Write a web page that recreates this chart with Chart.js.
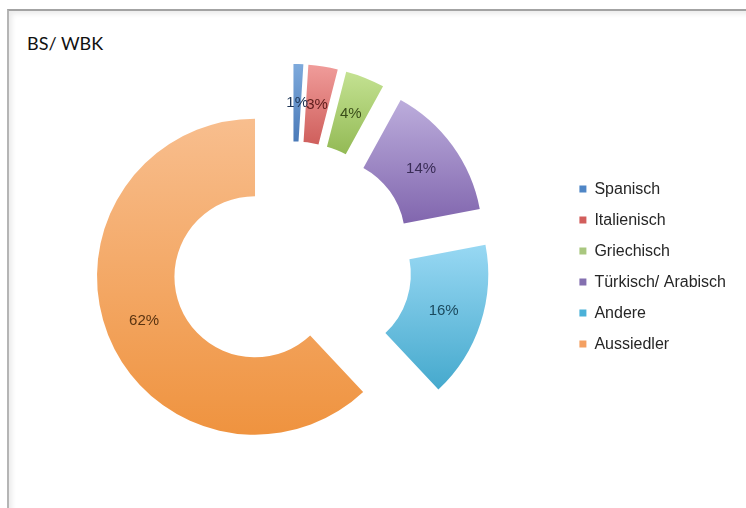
<!DOCTYPE html>
<html>
<head>
<meta charset="utf-8">
<script src="https://cdn.jsdelivr.net/npm/chart.js@4"></script>
<style>
    html, body { margin: 0; padding: 0; background: #fff; }
    body { width: 746px; height: 508px; position: relative; overflow: hidden; }
    #frame {
        position: absolute; left: 7px; top: 9px; width: 760px; height: 520px;
        border-top: 2px solid #a3a3a3; border-left: 2px solid #b5b5b5;
        box-shadow: inset 3px 3px 5px rgba(0, 0, 0, 0.08);
    }
    #title {
        position: absolute; left: 27px; top: 32px;
        font: 18px Lato, "Liberation Sans", sans-serif; color: #111;
    }
    #wrap { position: absolute; left: 0; top: 0; width: 746px; height: 508px; }
</style>
</head>
<body>
<div id="frame"></div>
<div id="title">BS/ WBK</div>
<div id="wrap"><canvas id="pie"></canvas></div>
<script>
// data
const labels = ["Spanisch", "Italienisch", "Griechisch", "Türkisch/ Arabisch", "Andere", "Aussiedler"];
const shares = [1, 3, 4, 14, 16, 62];

// colours
const lightColors = ["#7eaadc", "#f09c9a", "#c4e292", "#bcaddc", "#98d8f3", "#f8be8e"];
const darkColors = ["#4a7ab8", "#cf5f5c", "#93ba55", "#8166ae", "#45a9cd", "#ef933f"];
const legendColors = ["#4f86c6", "#d25e5c", "#a9c77f", "#8470b0", "#4bb1d8", "#f4a062"];
const labelColors = ["#1d3556", "#5e1d1b", "#3a4d1a", "#3a2d57", "#1b4a5e", "#5a3411"];

const EXPLODE = 40;
const CUTOUT = 0.51;

// vertical gradient fitted to the bounds of one (exploded) slice
function sliceGradient(context) {
    const chart = context.chart;
    const area = chart.chartArea;
    const i = context.dataIndex;
    if (!area) return darkColors[i];
    const total = shares.reduce((a, b) => a + b, 0);
    const before = shares.slice(0, i).reduce((a, b) => a + b, 0);
    const a0 = -Math.PI / 2 + 2 * Math.PI * before / total;
    const a1 = a0 + 2 * Math.PI * shares[i] / total;
    const mid = (a0 + a1) / 2;
    const R = Math.min(area.width, area.height) / 2;
    const cy = (area.top + area.bottom) / 2 + Math.sin(mid) * EXPLODE;
    let minY = Infinity, maxY = -Infinity;
    for (let k = 0; k <= 40; k++) {
        const a = a0 + (a1 - a0) * k / 40;
        [R, R * CUTOUT].forEach(r => {
            const y = cy + Math.sin(a) * r;
            minY = Math.min(minY, y);
            maxY = Math.max(maxY, y);
        });
    }
    const g = chart.ctx.createLinearGradient(0, minY, 0, maxY);
    g.addColorStop(0, lightColors[i]);
    g.addColorStop(1, darkColors[i]);
    return g;
}

// pull every slice out along its middle angle
const explodePlugin = {
    id: "explode",
    afterDatasetsUpdate(chart) {
        chart.getDatasetMeta(0).data.forEach(arc => {
            const mid = (arc.startAngle + arc.endAngle) / 2;
            arc.x += Math.cos(mid) * EXPLODE;
            arc.y += Math.sin(mid) * EXPLODE;
        });
    }
};

// percent labels in the middle of each slice
const valueLabels = {
    id: "valueLabels",
    afterDatasetsDraw(chart) {
        const ctx = chart.ctx;
        ctx.save();
        ctx.font = '15px "Liberation Sans", Arial, sans-serif';
        ctx.textAlign = "center";
        ctx.textBaseline = "middle";
        chart.getDatasetMeta(0).data.forEach((arc, i) => {
            const p = arc.tooltipPosition();
            ctx.fillStyle = labelColors[i];
            ctx.fillText(shares[i] + "%", p.x, p.y);
        });
        ctx.restore();
    }
};

new Chart(document.getElementById("pie"), {
    type: "doughnut",
    data: {
        labels: labels,
        datasets: [{
            data: shares,
            backgroundColor: sliceGradient,
            borderWidth: 0
        }]
    },
    options: {
        responsive: true,
        maintainAspectRatio: false,
        animation: false,
        cutout: (CUTOUT * 100) + "%",
        layout: { padding: { left: 20, right: 10, top: 104, bottom: 88 } },
        plugins: {
            tooltip: { enabled: false },
            legend: {
                position: "right",
                // empty title only to push the items a few pixels down
                title: { display: true, text: "", font: { size: 1 }, padding: 4 },
                labels: {
                    boxWidth: 7,
                    boxHeight: 7,
                    padding: 15,
                    color: "#262626",
                    font: { family: '"Liberation Sans", Arial, sans-serif', size: 16 },
                    generateLabels: (chart) => labels.map((text, i) => ({
                        text: text,
                        fillStyle: legendColors[i],
                        strokeStyle: legendColors[i],
                        fontColor: "#262626",
                        lineWidth: 0,
                        hidden: false,
                        index: i
                    }))
                }
            }
        }
    },
    plugins: [explodePlugin, valueLabels]
});
</script>
</body>
</html>
